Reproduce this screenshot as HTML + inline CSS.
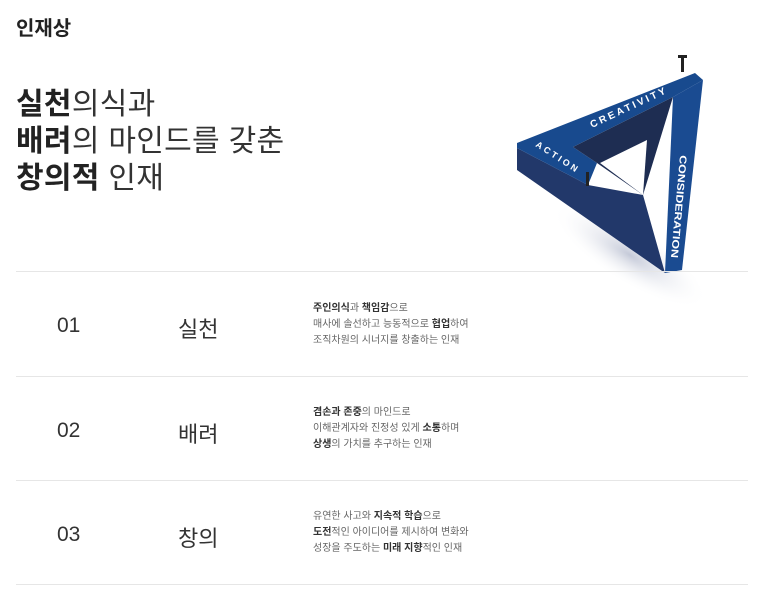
<!DOCTYPE html><html><head><meta charset="utf-8"><style>
body{margin:0;width:768px;height:607px;background:#fff;font-family:"Liberation Sans","Noto Sans CJK KR",sans-serif;color:#333;position:relative;overflow:hidden}
.a{position:absolute;white-space:nowrap}
.t{left:16px;top:12px;font-size:20px;font-weight:bold;color:#222}
.h{left:16px;font-size:30px;color:#333;line-height:37px;letter-spacing:0.3px}
.h b{color:#222}
.ln{position:absolute;left:16px;width:732px;height:1px;background:#e6e6e6}
.n{left:57px;font-size:21px;color:#333}
.m{left:178px;font-size:22px;color:#333}
.d{left:313px;font-size:10px;line-height:16px;color:#666}
.d b{color:#333}
</style></head><body>
<div class="a t">인재상</div>
<div class="a h" style="top:86px"><b>실천</b>의식과<br><b>배려</b>의 마인드를 갖춘<br><b>창의적</b> 인재</div>
<svg class="a" style="left:0;top:0" width="768" height="607">
<defs><radialGradient id="s" cx="0.5" cy="0.5" r="0.5"><stop offset="0" stop-color="#c4c9d8"/><stop offset="1" stop-color="#fff" stop-opacity="0"/></radialGradient></defs>
<ellipse cx="630" cy="255" rx="90" ry="28" fill="url(#s)" transform="rotate(32 630 255)"/>
<polygon points="517,148 588,185 643,195 665,273 517,170" fill="#22386a"/>
<polygon points="517,143 695,73 703,80 673,97 573,147 597,163 588,185 517,148" fill="#184a8e"/>
<polygon points="573,147 673,97 643,195 597,163" fill="#1e2d52"/>
<polygon points="600,163 647,140 643,195" fill="#fff"/>
<polygon points="673,97 703,80 682,270 665,273" fill="#1a4b91"/>
<text font-size="10" font-weight="bold" fill="#fff" transform="translate(592,128) rotate(-25)" textLength="82">CREATIVITY</text>
<text font-size="9" font-weight="bold" fill="#fff" transform="translate(535,146) rotate(33)" textLength="48">ACTION</text>
<text font-size="10" font-weight="bold" fill="#fff" transform="translate(680,155) rotate(95)" textLength="103" lengthAdjust="spacingAndGlyphs">CONSIDERATION</text>
<rect x="681" y="55" width="3" height="17" fill="#222"/><rect x="678" y="55" width="9" height="3" fill="#222"/>
<rect x="586" y="172" width="3" height="14" fill="#222"/>
</svg>
<div class="ln" style="top:271px"></div>
<div class="ln" style="top:376px"></div>
<div class="ln" style="top:480px"></div>
<div class="ln" style="top:584px"></div>
<div class="a n" style="top:314px">01</div><div class="a m" style="top:312px">실천</div>
<div class="a d" style="top:301px"><b>주인의식</b>과 <b>책임감</b>으로<br>매사에 솔선하고 능동적으로 <b>협업</b>하여<br>조직차원의 시너지를 창출하는 인재</div>
<div class="a n" style="top:419px">02</div><div class="a m" style="top:417px">배려</div>
<div class="a d" style="top:405px"><b>겸손과 존중</b>의 마인드로<br>이해관계자와 진정성 있게 <b>소통</b>하며<br><b>상생</b>의 가치를 추구하는 인재</div>
<div class="a n" style="top:523px">03</div><div class="a m" style="top:521px">창의</div>
<div class="a d" style="top:509px">유연한 사고와 <b>지속적 학습</b>으로<br><b>도전</b>적인 아이디어를 제시하여 변화와<br>성장을 주도하는 <b>미래 지향</b>적인 인재</div>
</body></html>
